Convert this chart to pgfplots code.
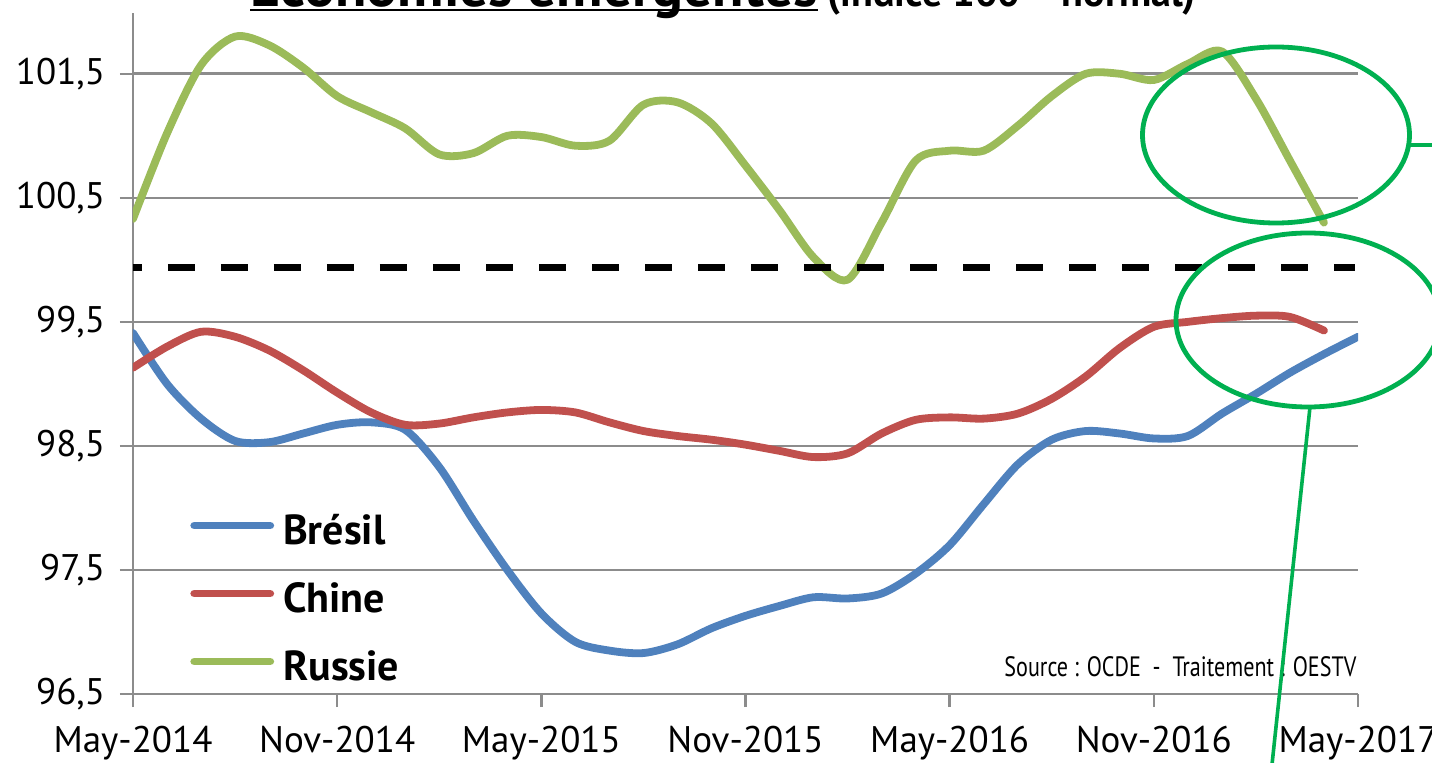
\documentclass[border=0pt]{standalone}
\usepackage{fontspec}
\setmainfont{PT Sans}
\newfontfamily\srcfont[FakeStretch=0.79]{PT Sans}
\usepackage{pgfplots}
\usepackage{pgfplotstable}
\pgfplotsset{compat=1.18}
\definecolor{bres}{HTML}{4F81BD}
\definecolor{chin}{HTML}{C0504D}
\definecolor{russ}{HTML}{9BBB59}
\definecolor{annot}{HTML}{00B050}
\definecolor{gridc}{HTML}{8C8C8C}

\pgfplotstableread{
t v
0 99.41
1 99.00
2 98.72
3 98.54
4 98.53
5 98.60
6 98.67
7 98.69
8 98.63
9 98.33
10 97.90
11 97.50
12 97.15
13 96.92
14 96.85
15 96.83
16 96.90
17 97.03
18 97.13
19 97.21
20 97.28
21 97.27
22 97.31
23 97.47
24 97.70
25 98.03
26 98.35
27 98.55
28 98.62
29 98.60
30 98.56
31 98.58
32 98.76
33 98.92
34 99.09
35 99.24
36 99.38
}\bresil

\pgfplotstableread{
t v
0 99.13
1 99.30
2 99.42
3 99.38
4 99.27
5 99.11
6 98.93
7 98.77
8 98.67
9 98.68
10 98.73
11 98.77
12 98.79
13 98.77
14 98.69
15 98.62
16 98.58
17 98.55
18 98.51
19 98.46
20 98.41
21 98.44
22 98.60
23 98.71
24 98.73
25 98.72
26 98.76
27 98.88
28 99.06
29 99.29
30 99.46
31 99.50
32 99.53
33 99.55
34 99.54
35 99.43
}\chine

\pgfplotstableread{
t v
0 100.33
1 101.02
2 101.57
3 101.80
4 101.73
5 101.55
6 101.32
7 101.19
8 101.06
9 100.85
10 100.86
11 101.00
12 100.99
13 100.92
14 100.96
15 101.25
16 101.27
17 101.10
18 100.76
19 100.40
20 100.02
21 99.84
22 100.30
23 100.80
24 100.88
25 100.88
26 101.08
27 101.32
28 101.50
29 101.50
30 101.45
31 101.58
32 101.68
33 101.30
34 100.80
35 100.30
}\russie

\begin{document}
\begin{tikzpicture}
\begin{axis}[
  scale only axis, width=612.5pt, height=340.5pt,
  xmin=0, xmax=36, ymin=96.5, ymax=101.99,
  axis x line*=bottom, axis y line*=left,
  axis line style={-, gridc, line width=1.2pt},
  xtick={0,6,12,18,24,30,36},
  xticklabels={May-2014,Nov-2014,May-2015,Nov-2015,May-2016,Nov-2016,May-2017},
  ytick={96.5,97.5,98.5,99.5,100.5,101.5},
  ymajorgrids, grid style={gridc, line width=1.3pt},
  tick style={gridc, line width=1.2pt}, major tick length=6.5pt, tick align=outside,
  ticklabel style={font=\fontsize{18.5}{20}\selectfont},
  yticklabel style={xshift=-4pt},
  xticklabel style={yshift=-6pt},
  yticklabel={\pgfmathprintnumber[use comma, fixed, fixed zerofill, precision=1, assume math mode=true]{\tick}},
  legend style={at={(0.0465,0.0059)}, anchor=south west, draw=none, fill=none,
    inner sep=0pt, row sep=16pt, font=\bfseries\fontsize{21}{22}\selectfont,
    nodes={inner sep=0pt, text height=13.5pt, text depth=4.5pt}},
  legend cell align=left,
  legend image code/.code={\draw[#1] (2pt,5pt) -- (40pt,5pt); \path (44.5pt,5pt);},
  every axis plot/.append style={line width=3.9pt, line cap=round, line join=round},
]
\addplot[bres, smooth] table[x=t, y=v] {\bresil};
\addplot[chin, smooth] table[x=t, y=v] {\chine};
\addplot[russ, smooth] table[x=t, y=v] {\russie};
\legend{Brésil, Chine, Russie}
\addplot[black, line width=3.5pt, line cap=butt, dash pattern=on 13.5pt off 13pt, dash phase=9pt, forget plot] coordinates {(0,99.94) (35.9,99.94)};
\node[anchor=base east, inner sep=0pt, font=\srcfont\fontsize{14}{15}\selectfont] at (rel axis cs:0.999,0.0264) {Source : OCDE \ - \ Traitement : OESTV};
\end{axis}
\node[anchor=base west, inner sep=0pt, font=\bfseries\fontsize{28.8}{30}\selectfont] (t1) at (58.5pt,343.5pt) {Économies émergentes};
\draw[black, line width=1.3pt] ([yshift=-1.5pt]t1.base west) -- ([yshift=-1.5pt]t1.base east);
\node[anchor=base west, inner sep=0pt, font=\bfseries\fontsize{20}{22}\selectfont] at (347pt,343.5pt) {(indice 100 = normal)};
\draw[annot, line width=2.4pt] (571.5pt,279.5pt) ellipse [x radius=66.75pt, y radius=44pt];
\draw[annot, line width=1.8pt] (638.5pt,274.5pt) -- (665pt,274.5pt);
\draw[annot, line width=2.4pt] (587.5pt,187pt) ellipse [x radius=66pt, y radius=43.5pt];
\draw[annot, line width=1.8pt] (588.5pt,143.5pt) -- (569pt,-40pt);
\pgfresetboundingbox
\path (-66.5pt,-34pt) rectangle (649.5pt,347pt);
\end{tikzpicture}
\end{document}
